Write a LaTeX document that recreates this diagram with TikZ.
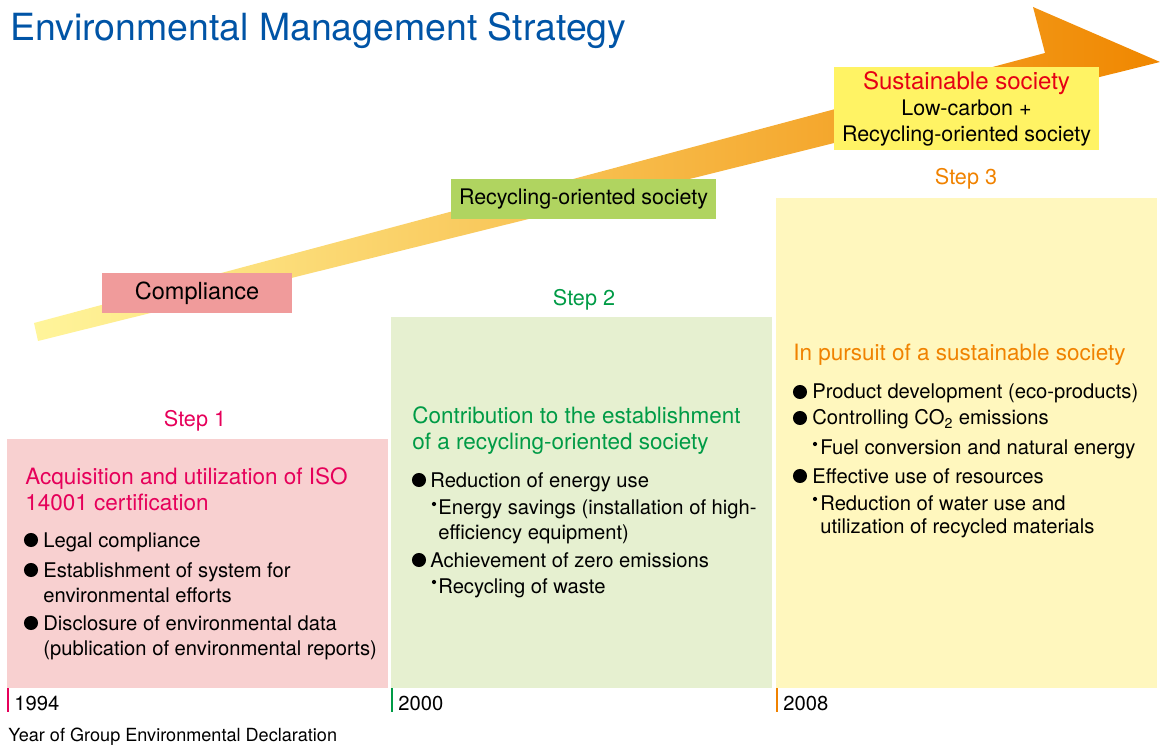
\documentclass[tikz,border=0pt]{standalone}
\usepackage{fontspec}
\setmainfont{TeX Gyre Heros}
\usepackage{tikz}
\usetikzlibrary{calc}

\definecolor{titleblue}{RGB}{0,84,166}
\definecolor{stepred}{RGB}{230,0,90}
\definecolor{stepgreen}{RGB}{0,155,70}
\definecolor{steporange}{RGB}{240,130,0}
\definecolor{sustred}{RGB}{230,0,20}
\definecolor{pinkpanel}{RGB}{248,208,208}
\definecolor{greenpanel}{RGB}{230,240,208}
\definecolor{yellowpanel}{RGB}{255,247,190}
\definecolor{complbox}{RGB}{240,155,155}
\definecolor{recycbox}{RGB}{176,212,96}
\definecolor{sustbox}{RGB}{255,243,100}
\definecolor{arrowpale}{RGB}{255,245,155}
\definecolor{arrowmid}{RGB}{250,200,80}
\definecolor{arroworange}{RGB}{240,135,0}

\tikzset{
	body/.style={anchor=base west, inner sep=0pt, font=\fontsize{11.5}{14}\selectfont},
	head/.style={anchor=base west, inner sep=0pt, font=\fontsize{12.8}{15}\selectfont},
	steplabel/.style={inner sep=0pt, font=\fontsize{12.3}{14}\selectfont},
	year/.style={anchor=base west, inner sep=0pt, font=\fontsize{11.5}{14}\selectfont},
	stagebox/.style={inner sep=0pt, font=\fontsize{12.2}{14.2}\selectfont}
}
\def\bigdot(#1,#2){\fill (#1,#2-7) circle (4pt);}
\def\smalldot(#1,#2){\fill (#1,#2-11) circle (1.2pt);}

\begin{document}
\begin{tikzpicture}[x=0.02cm, y=-0.02cm]
			%%%%% START %%%%%
			\useasboundingbox (0,0) rectangle (1160,746);
			
			\node[anchor=base west, inner sep=0pt, text=titleblue, font=\fontsize{21.3}{25}\selectfont] (title) at (10,41) {Environmental Management Strategy};
			
			% rising arrow
			\shade[left color=arrowpale, middle color=arrowmid, right color=arroworange] (34,323) -- (1045,53) -- (1033,7) -- (1160,62) -- (38,341) -- cycle;
			
			% stage boxes on the arrow
			\node[stagebox, fill=complbox, minimum width=190*0.02cm, minimum height=40*0.02cm, font=\fontsize{13.4}{16}\selectfont] (compl) at (197,293) {Compliance};
			\node[stagebox, fill=recycbox, minimum width=265*0.02cm, minimum height=40*0.02cm] (recyc) at (583.5,199) {Recycling-oriented society};
			\node[stagebox, fill=sustbox, minimum width=265*0.02cm, minimum height=83*0.02cm, align=center] (sust) at (966.5,108.5) {\textcolor{sustred}{\fontsize{13.7}{15}\selectfont Sustainable society}\\[0.6pt]Low-carbon +\\[0.6pt]Recycling-oriented society};
			
			% panels
			\fill[pinkpanel] (7,439) rectangle (388,688);
			\fill[greenpanel] (391,317) rectangle (772,688);
			\fill[yellowpanel] (776,198) rectangle (1157,688);
			
			\node[steplabel, text=stepred] (step1) at (195,421) {Step 1};
			\node[steplabel, text=stepgreen] (step2) at (584,300) {Step 2};
			\node[steplabel, text=steporange] (step3) at (966,179) {Step 3};
			
			% step 1
			\node[head, text=stepred] (s1h1) at (25,484) {Acquisition and utilization of ISO};
			\node[head, text=stepred] (s1h2) at (25,510) {14001 certification};
			\bigdot(31,547)
			\node[body] (s1a) at (43,547) {Legal compliance};
			\bigdot(31,577)
			\node[body] (s1b) at (43,577) {Establishment of system for};
			\node[body] (s1c) at (43,602) {environmental efforts};
			\bigdot(31,630)
			\node[body] (s1d) at (43,630) {Disclosure of environmental data};
			\node[body] (s1e) at (43,655) {(publication of environmental reports)};
			
			% step 2
			\node[head, text=stepgreen] (s2h1) at (412,424) {Contribution to the establishment};
			\node[head, text=stepgreen] (s2h2) at (412,450) {of a recycling-oriented society};
			\bigdot(419,487)
			\node[body] (s2a) at (430,487) {Reduction of energy use};
			\smalldot(434,515)
			\node[body] (s2b) at (438,515) {Energy savings (installation of high-};
			\node[body] (s2c) at (438,540) {efficiency equipment)};
			\bigdot(419,567)
			\node[body] (s2d) at (430,567) {Achievement of zero emissions};
			\smalldot(434,593)
			\node[body] (s2e) at (438,593) {Recycling of waste};
			
			% step 3
			\node[head, text=steporange] (s3h1) at (793,361) {In pursuit of a sustainable society};
			\bigdot(800,399)
			\node[body] (s3a) at (812,399) {Product development (eco-products)};
			\bigdot(800,425)
			\node[body] (s3b) at (812,425) {Controlling CO\textsubscript{2} emissions};
			\smalldot(815,455)
			\node[body] (s3c) at (820,455) {Fuel conversion and natural energy};
			\bigdot(800,483)
			\node[body] (s3d) at (812,483) {Effective use of resources};
			\smalldot(815,510)
			\node[body] (s3e) at (820,510) {Reduction of water use and};
			\node[body] (s3f) at (820,534) {utilization of recycled materials};
			
			% years
			\draw[line width=1.1pt, stepred] (8,688) -- (8,712);
			\draw[line width=1.1pt, stepgreen] (392,688) -- (392,712);
			\draw[line width=1.1pt, steporange] (777,688) -- (777,712);
			\node[year] (y1994) at (14,710) {1994};
			\node[year] (y2000) at (398,710) {2000};
			\node[year] (y2008) at (783,710) {2008};
			\node[anchor=base west, inner sep=0pt, font=\fontsize{10.3}{12}\selectfont] (decl) at (8,741) {Year of Group Environmental Declaration};
			
			%%%%% END %%%%%
\end{tikzpicture}
\end{document}
